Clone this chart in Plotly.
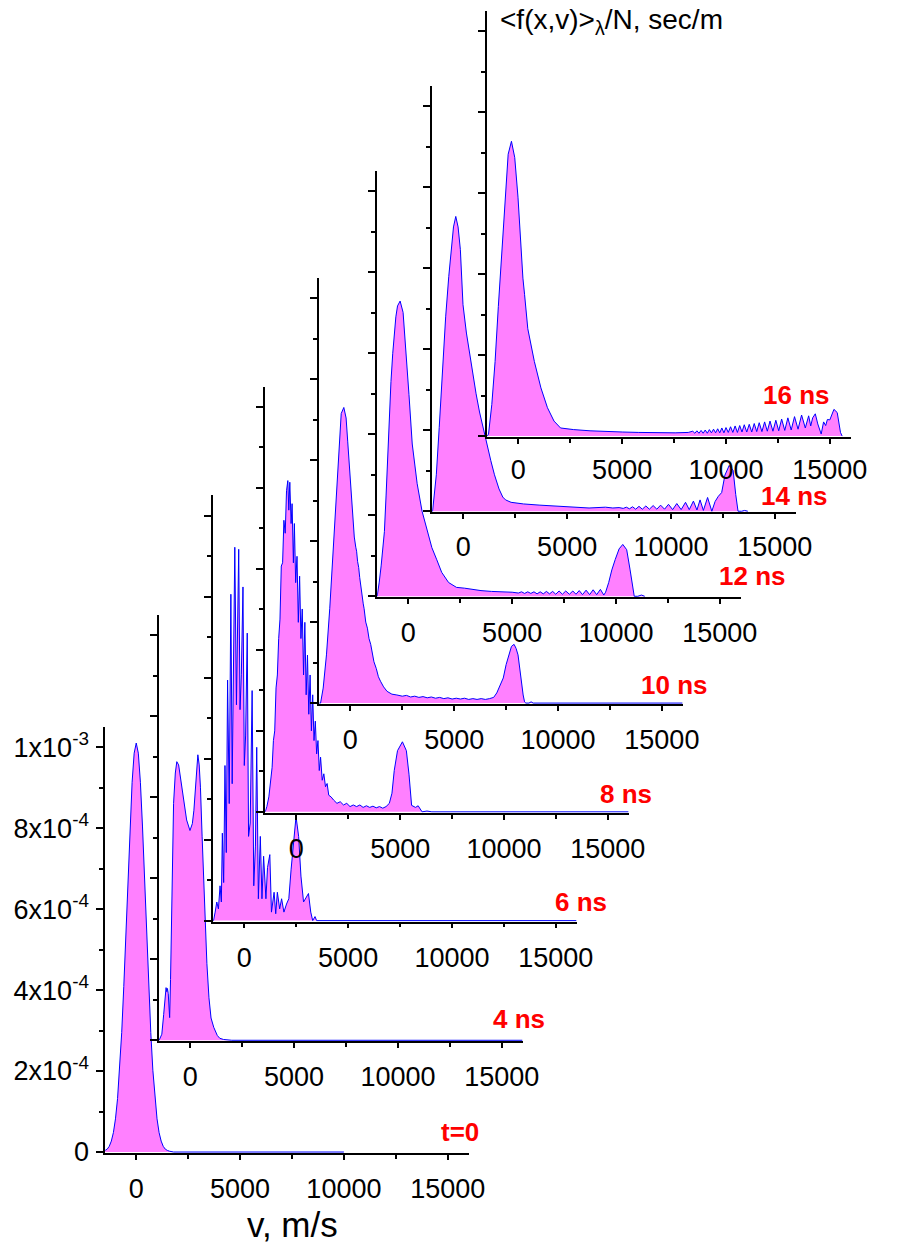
import plotly.graph_objects as go

# ---------------- data (f in units of 1e-4 sec/m, v in m/s) ----------------
LABELS = ["t=0", "4 ns", "6 ns", "8 ns", "10 ns", "12 ns", "14 ns", "16 ns"]

V_T0 = [-1500, -1400, -1300, -1200, -1100, -1000, -900, -800, -700, -600, -500, -400, -300, -200, -100, 0,
        100, 200, 300, 400, 500, 600, 700, 800, 900, 1000, 1100, 1200, 1300, 1400, 1500, 1600, 1800, 10000]
F_T0 = [0.04, 0.07, 0.14, 0.27, 0.48, 0.82, 1.32, 2.02, 2.95, 4.09, 5.39, 6.76, 8.05, 9.13, 9.85, 10.1,
        9.85, 9.13, 8.05, 6.76, 5.39, 4.09, 2.95, 2.02, 1.32, 0.82, 0.48, 0.27, 0.14, 0.07, 0.04, 0.02, 0.0, 0.0]

V_4NS = [-1500, -1450, -1370, -1280, -1215, -1165, -1130, -1100, -1060, -1030, -993, -950, -900, -885, -804,
         -720, -648, -560, -470, -380, -280, -175, -15, 100, 175, 300, 365, 430, 490, 570, 650, 710, 760, 800,
         900, 1000, 1130, 1300, 1420, 1600, 2000, 16000]
F_4NS = [0, 0.05, 0.15, 0.64, 1.13, 1.30, 1.20, 1.28, 1.15, 0.8, 0.56, 1.5, 3.2, 4.2, 5.85,
         6.6, 6.88, 6.8, 6.5, 6.17, 5.8, 5.44, 5.18, 5.35, 5.68, 6.66, 7.05, 6.8, 6.25, 5.04, 4.05, 2.9, 2.3, 1.9,
         1.05, 0.55, 0.32, 0.12, 0.05, 0.02, 0.0, 0.0]

V_6NS = [-1500, -1482, -1403, -1324, -1246, -1167, -1104, -1056, -993, -930, -867, -804, -725, -646, -583,
         -457, -378, -268, -205, -142, -63, 0, 63, 142, 205, 284, 378, 457, 536, 599, 678, 772, 851, 930,
         1041, 1119, 1230, 1309, 1435, 1514, 1592, 1703, 1797, 1908, 2034, 2144, 2255, 2381, 2491, 2617,
         2728, 2854, 2980, 3090, 3201, 3295, 3406, 3484, 16000]
F_6NS = [0, 0, 0.21, 0.46, 0.29, 0.86, 0.46, 2.16, 0.94, 3.83, 1.68, 5.94, 2.89, 8.06, 3.38,
         9.22, 5.33, 9.17, 5.21, 6.07, 8.24, 3.83, 4.56, 7.10, 2.08, 2.41, 5.68, 0.86, 1.84, 4.28, 0.54, 2.08,
         0.54, 1.59, 0.54, 1.31, 1.63, 0.21, 0.70, 0.17, 0.70, 0.29, 0.54, 0.21, 0.41, 0.54, 1.27, 2.08, 2.57,
         2.08, 1.10, 0.46, 0.58, 0.67, 0.21, 0, 0.10, 0, 0]

V_8NS = [-1500, -1419, -1324, -1230, -1167, -1104, -1041, -978, -914, -851, -788, -725, -662, -599, -536,
         -473, -410, -363, -315, -252, -205, -142, -95, -32, 32, 95, 158, 221, 284, 347, 410, 473, 536, 599,
         662, 725, 788, 851, 914, 978, 1041, 1104, 1167, 1246, 1324, 1403, 1482, 1561, 1671, 1797, 1955, 2113,
         2270, 2428, 2586, 2743, 2901, 3059, 3216, 3374, 3532, 3689, 3847, 4005, 4162, 4320, 4478, 4604, 4714,
         4872, 5108, 5298, 5424, 5550, 5739, 5865, 6054, 6290, 6527, 16000]
F_8NS = [0, 0.13, 0.37, 0.78, 1.10, 1.76, 2.00, 3.06, 3.38, 4.28, 4.76, 6.07, 6.15, 7.20, 6.88,
         7.93, 8.18, 7.45, 8.14, 7.12, 7.61, 6.15, 7.12, 5.66, 6.31, 4.68, 5.82, 4.28, 5.01, 3.38, 4.68, 2.89,
         3.87, 2.41, 3.38, 2.00, 2.89, 1.76, 2.24, 1.43, 1.76, 1.02, 1.35, 0.78, 0.94, 0.62, 0.70, 0.41, 0.37,
         0.29, 0.21, 0.25, 0.17, 0.21, 0.13, 0.17, 0.13, 0.17, 0.11, 0.15, 0.11, 0.14, 0.10, 0.13, 0.09, 0.13,
         0.21, 0.46, 1.02, 1.51, 1.73, 1.51, 0.93, 0.16, 0.11, 0.15, 0, 0.02, 0, 0]

V_10NS = [-1500, -1435, -1309, -1151, -993, -836, -710, -599, -520, -441, -315, -205, -126, -79, 32, 110,
          189, 260, 300, 347, 400, 450, 505, 560, 620, 662, 740, 820, 899, 980, 1060, 1135, 1250, 1350, 1451,
          1600, 1766, 2000, 2239, 2500, 2700, 2900, 3100, 3300, 3500, 3700, 3900, 4100, 4300, 4500, 4700,
          4900, 5100, 5300, 5500, 5700, 5900, 6100, 6300, 6500, 6700, 6900, 7050, 7200, 7363, 7500, 7600,
          7757, 7883, 7980, 8073, 8150, 8230, 8320, 8388, 8450, 8600, 8704, 8800, 16000]
F_10NS = [0, 0.0, 0.37, 1.19, 2.33, 3.7, 4.9, 5.9, 6.6, 7.15, 7.30, 7.04, 6.45, 6.1, 5.1, 4.5,
          4.1, 3.85, 3.75, 3.5, 3.35, 3.1, 2.85, 2.75, 2.45, 2.33, 2.0, 1.85, 1.59, 1.45, 1.2, 1.02, 0.85, 0.65,
          0.54, 0.4, 0.29, 0.22, 0.20, 0.17, 0.19, 0.15, 0.17, 0.14, 0.16, 0.13, 0.15, 0.12, 0.14, 0.11, 0.13,
          0.10, 0.12, 0.10, 0.12, 0.09, 0.11, 0.09, 0.11, 0.09, 0.11, 0.14, 0.25, 0.45, 0.62, 0.95, 1.15,
          1.40, 1.45, 1.35, 1.19, 0.85, 0.54, 0.20, 0.03, 0.0, 0.0, 0.03, 0.0, 0.0]

V_12NS = [-1500, -1466, -1400, -1309, -1230, -1151, -1070, -993, -900, -836, -750, -678, -600, -520, -394,
          -252, -126, 32, 189, 426, 662, 899, 1135, 1372, 1608, 1939, 2318, 2712, 3027, 3500, 4000, 4604,
          5000, 5300, 5450, 5600, 5750, 5900, 6050, 6200, 6350, 6500, 6650, 6800, 6950, 7100, 7260, 7420,
          7580, 7757, 7920, 8073, 8230, 8388, 8560, 8730, 8900, 9070, 9250, 9413, 9500, 9649, 9800, 9965,
          10150, 10327, 10516, 10674, 10784, 10879, 11050, 11226, 11383]
F_12NS = [0, 0.10, 0.35, 0.75, 1.1, 1.6, 2.5, 3.5, 4.5, 5.3, 6.0, 6.5, 6.9, 7.17, 7.29,
          7.01, 6.20, 4.98, 3.76, 2.78, 2.10, 1.63, 1.20, 0.90, 0.59, 0.34, 0.22, 0.20, 0.17, 0.14, 0.12, 0.11,
          0.10, 0.08, 0.11, 0.07, 0.11, 0.07, 0.11, 0.06, 0.11, 0.06, 0.12, 0.06, 0.12, 0.05, 0.13, 0.05,
          0.13, 0.05, 0.13, 0.05, 0.14, 0.04, 0.15, 0.04, 0.16, 0.04, 0.17, 0.03, 0.10, 0.34, 0.65, 0.91,
          1.17, 1.28, 1.15, 0.67, 0.26, 0.0, 0.0, 0.03, 0.0]

V_14NS = [-1500, -1482, -1400, -1300, -1160, -1000, -850, -700, -600, -568, -473, -363, -252, -142, -63,
          -16, 150, 300, 450, 615, 780, 930, 1100, 1324, 1500, 1719, 1900, 2034, 2300, 2586, 2901, 3689,
          4793, 6054, 6843, 7200, 7500, 7700, 7850, 8000, 8150, 8300, 8460, 8620, 8790, 8960, 9140, 9320,
          9500, 9690, 9880, 10080, 10280, 10490, 10700, 10880, 11080, 11250, 11400, 11560, 11762, 11967,
          12124, 12282, 12440, 12597, 12803, 12992, 13118, 13229, 13400, 13545, 13700]
F_14NS = [0, 0, 0.4, 0.9, 2.07, 3.5, 4.8, 5.8, 6.4, 6.62, 7.02, 7.28, 7.02, 6.46, 5.72,
          5.1, 4.4, 3.9, 3.4, 2.9, 2.45, 2.1, 1.7, 1.25, 0.9, 0.55, 0.35, 0.28, 0.22, 0.20, 0.18, 0.15,
          0.12, 0.08, 0.10, 0.08, 0.09, 0.07, 0.10, 0.06, 0.11, 0.05, 0.12, 0.05, 0.13, 0.05, 0.14, 0.05,
          0.15, 0.05, 0.17, 0.04, 0.19, 0.04, 0.22, 0.04, 0.25, 0.03, 0.28, 0.02, 0.34, 0.0,
          0.24, 0.37, 0.46, 0.89, 1.13, 1.01, 0.41, 0.0, 0.0, 0.02, 0.0]

V_16NS = [-1500, -1435, -1277, -1119, -962, -804, -650, -568, -489, -331, -173, -16, 142, 221, 300, 457,
          773, 1088, 1403, 1719, 2034, 2665, 3453, 4200, 5030, 5800, 6607, 7553, 8183, 8400, 8500, 8600,
          8700, 8800, 8900, 9000, 9100, 9200, 9300, 9400, 9500, 9600, 9700, 9800, 9900, 10000, 10110, 10220,
          10330, 10440, 10550, 10660, 10770, 10880, 11000, 11120, 11240, 11360, 11480, 11600, 11730, 11860,
          11990, 12120, 12260, 12400, 12540, 12680, 12830, 12980, 13140, 13300, 13470, 13640, 13820, 13980,
          14080, 14174, 14300, 14420, 14585, 14700, 14800, 14884, 15000, 15100, 15199, 15357, 15450, 15514,
          15593]
F_16NS = [0, 0.05, 0.78, 1.84, 3.2, 4.44, 5.9, 6.39, 6.96, 7.28, 6.88, 5.90, 4.4, 3.9, 3.5, 2.65,
          1.84, 1.19, 0.70, 0.37, 0.20, 0.16, 0.13, 0.11, 0.10, 0.09, 0.08, 0.08, 0.09, 0.12, 0.07, 0.13,
          0.07, 0.14, 0.07, 0.15, 0.07, 0.16, 0.08, 0.17, 0.08, 0.18, 0.08, 0.20, 0.08, 0.21, 0.09, 0.23,
          0.09, 0.25, 0.09, 0.26, 0.10, 0.28, 0.10, 0.29, 0.10, 0.31, 0.11, 0.33, 0.11, 0.35,
          0.12, 0.37, 0.12, 0.39, 0.13, 0.42, 0.14, 0.45, 0.15, 0.48, 0.17, 0.52, 0.20, 0.50,
          0.25, 0.45, 0.55, 0.30, 0.05, 0.35, 0.26, 0.41, 0.40, 0.55, 0.66, 0.58, 0.30, 0.09,
          0.0]

X_TICKS = [0, 5000, 10000, 15000]
X_MINOR = [2500, 7500, 12500]
Y_TICKS = [0, 2, 4, 6, 8, 10]
Y_MINOR = [1, 3, 5, 7, 9]
Y_TICKTEXT = ["0", "2x10<sup>-4</sup>", "4x10<sup>-4</sup>", "6x10<sup>-4</sup>",
              "8x10<sup>-4</sup>", "1x10<sup>-3</sup>"]

SERIES = [(V_T0, F_T0), (V_4NS, F_4NS), (V_6NS, F_6NS), (V_8NS, F_8NS),
          (V_10NS, F_10NS), (V_12NS, F_12NS), (V_14NS, F_14NS), (V_16NS, F_16NS)]

# ---------------- layout geometry (pixels) ----------------
W, H = 899, 1259
AXIS_X = [107, 162, 217, 270, 325, 384, 440, 496]
BASE_Y = [1166, 1053, 932, 822, 712, 604, 518, 442]
X_STANDOFF = [6, 6, 6, 6, 6, 6, 5, 3]
PANEL_W = 370
PANEL_H = 431
LABEL_POS = [(489, 1145), (556, 1030), (619, 912), (665, 803), (722, 693), (801, 582), (844, 502), (846, 399)]

FONT = "Liberation Sans, Arial, sans-serif"
PINK = "#FF80FF"
BLUE = "#0000FF"

fig = go.Figure()
layout = dict(width=W, height=H, margin=dict(l=0, r=0, t=0, b=0),
              paper_bgcolor="white", plot_bgcolor="rgba(0,0,0,0)", showlegend=False)

for i, (v, f) in enumerate(SERIES):
    k = i + 1
    sx = "" if k == 1 else str(k)
    fig.add_trace(go.Scatter(x=v, y=f, xaxis="x" + sx, yaxis="y" + sx, mode="lines",
                             line=dict(color=BLUE, width=1), fill="tozeroy", fillcolor=PINK,
                             hoverinfo="skip", showlegend=False))
    x0 = AXIS_X[i] / W
    x1 = (AXIS_X[i] + PANEL_W) / W
    y0 = (H - BASE_Y[i]) / H
    y1 = (H - BASE_Y[i] + PANEL_H) / H
    layout["xaxis" + sx] = dict(
        domain=[x0, x1], range=[-1500, 16000], anchor="y" + sx,
        showline=True, linecolor="black", linewidth=1.5, mirror=False,
        ticks="outside", ticklen=5, tickwidth=1.5, tickcolor="black",
        tickmode="array", tickvals=X_TICKS, ticktext=[str(t) for t in X_TICKS],
        minor=dict(tickmode="array", tickvals=X_MINOR, ticks="outside", ticklen=4,
                   tickwidth=1.5, tickcolor="black", showgrid=False),
        showgrid=False, zeroline=False, layer="below traces",
        ticklabelstandoff=X_STANDOFF[i],
        tickfont=dict(family=FONT, size=27, color="black"),
    )
    layout["yaxis" + sx] = dict(
        domain=[y0, y1], range=[-0.025, 10.5], anchor="x" + sx,
        showline=True, linecolor="black", linewidth=1.5,
        ticks="outside", ticklen=7, tickwidth=1.5, tickcolor="black",
        tickmode="array", tickvals=Y_TICKS, ticktext=Y_TICKTEXT,
        minor=dict(tickmode="array", tickvals=Y_MINOR, ticks="outside", ticklen=4,
                   tickwidth=1.5, tickcolor="black", showgrid=False),
        showticklabels=(i == 0),
        showgrid=False, zeroline=False,
        ticklabelstandoff=2,
        tickfont=dict(family=FONT, size=27, color="black"),
    )

annotations = []
for (lx, ly), txt in zip(LABEL_POS, LABELS):
    annotations.append(dict(xref="paper", yref="paper", x=lx / W, y=1 - ly / H,
                            xanchor="right", yanchor="middle", showarrow=False,
                            text="<b>" + txt + "</b>", borderpad=0,
                            font=dict(family=FONT, size=26, color="#FF0000")))
annotations.append(dict(xref="paper", yref="paper", x=507 / W, y=1 - 22 / H,
                        xanchor="left", yanchor="middle", showarrow=False,
                        text="&lt;f(x,v)&gt;<sub>λ</sub>/N, sec/m",
                        font=dict(family=FONT, size=28, color="black")))
annotations.append(dict(xref="paper", yref="paper", x=298 / W, y=1 - 1238 / H,
                        xanchor="center", yanchor="middle", showarrow=False,
                        text="v, m/s",
                        font=dict(family=FONT, size=35, color="black")))
layout["annotations"] = annotations

fig.update_layout(**layout)
fig.write_html("out.html")
